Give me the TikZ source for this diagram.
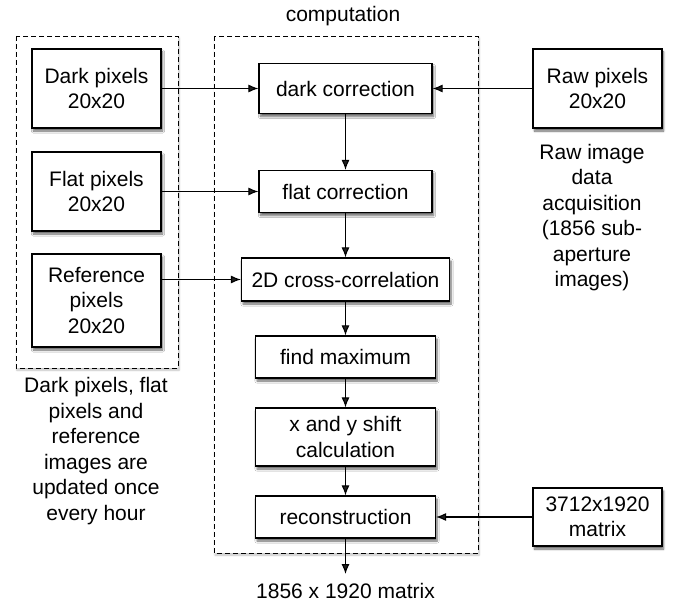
\documentclass[tikz,border=0pt]{standalone}
\usepackage{fontspec}
\setmainfont{Liberation Sans}
\usetikzlibrary{arrows.meta,shadows.blur}

\tikzset{
  box/.style={draw,line width=1.2pt,fill=white,align=center,inner sep=0pt,
    blur shadow={shadow xshift=1.5pt,shadow yshift=-3pt,shadow blur steps=6,shadow opacity=60}},
  grp/.style={draw,line width=0.9pt,dash pattern=on 5pt off 3pt,fill=white,
    blur shadow={shadow xshift=1pt,shadow yshift=-2pt,shadow blur steps=6,shadow opacity=25}},
  note/.style={align=center,inner sep=0pt}
}

\begin{document}
\begin{tikzpicture}[x=1pt,y=-1pt,line width=1.1pt,
    every node/.style={font=\fontsize{21}{25.5}\selectfont},
    >={Latex[length=10pt,width=8pt]}]
  \useasboundingbox (0,0) rectangle (678,604);
  % groups
  \draw[grp] (16,36) rectangle (178,368);
  \draw[grp] (214,36) rectangle (478,553);
  \node (comp) at (343,16) {computation};

  % inputs
  \node[box,minimum width=129pt,minimum height=79pt] (dark) at (96.5,88.5) {Dark pixels\\20x20};
  \node[box,minimum width=129pt,minimum height=79pt] (flat) at (96.5,191.5) {Flat pixels\\20x20};
  \node[box,minimum width=129pt,minimum height=93pt] (ref) at (96.5,300.5) {Reference\\pixels\\20x20};
  \node[note] (upd) at (96,451) {Dark pixels, flat\\pixels and\\reference\\images are\\updated once\\every hour};

  \node[box,minimum width=129pt,minimum height=79pt] (raw) at (597.5,88.5) {Raw pixels\\20x20};
  \node[note] (acq) at (592,217.5) {Raw image\\data\\acquisition\\(1856 sub-\\aperture\\images)};
  \node[box,minimum width=129pt,minimum height=58pt] (mat) at (597.5,517) {3712x1920\\matrix};

  % computation steps
  \node[box,minimum width=173pt,minimum height=50pt] (darkcorr) at (345.5,88.5) {dark correction};
  \node[box,minimum width=173pt,minimum height=42pt] (flatcorr) at (345.5,191.5) {flat correction};
  \node[box,minimum width=208pt,minimum height=43pt] (xcorr) at (345.5,279.5) {2D cross-correlation};
  \node[box,minimum width=180pt,minimum height=42pt] (findmax) at (345.5,357) {find maximum};
  \node[box,minimum width=180pt,minimum height=58pt] (shift) at (345.5,437) {x and y shift\\calculation};
  \node[box,minimum width=180pt,minimum height=42pt] (recon) at (345.5,517) {reconstruction};
  \coordinate (out) at (345.5,574);
  \node (res) at (345.5,591) {1856 x 1920 matrix};

  % connectors
  \draw[->] (dark) -- (darkcorr);
  \draw[->] (flat) -- (flatcorr);
  \draw[->] (ref.east |- xcorr.west) -- (xcorr.west);
  \draw[->] (raw) -- (darkcorr);
  \draw[->] (mat) -- (recon);
  \draw[->] (darkcorr) -- (flatcorr);
  \draw[->] (flatcorr) -- (xcorr);
  \draw[->] (xcorr) -- (findmax);
  \draw[->] (findmax) -- (shift);
  \draw[->] (shift) -- (recon);
  \draw[->] (recon) -- (out);
\end{tikzpicture}
\end{document}
